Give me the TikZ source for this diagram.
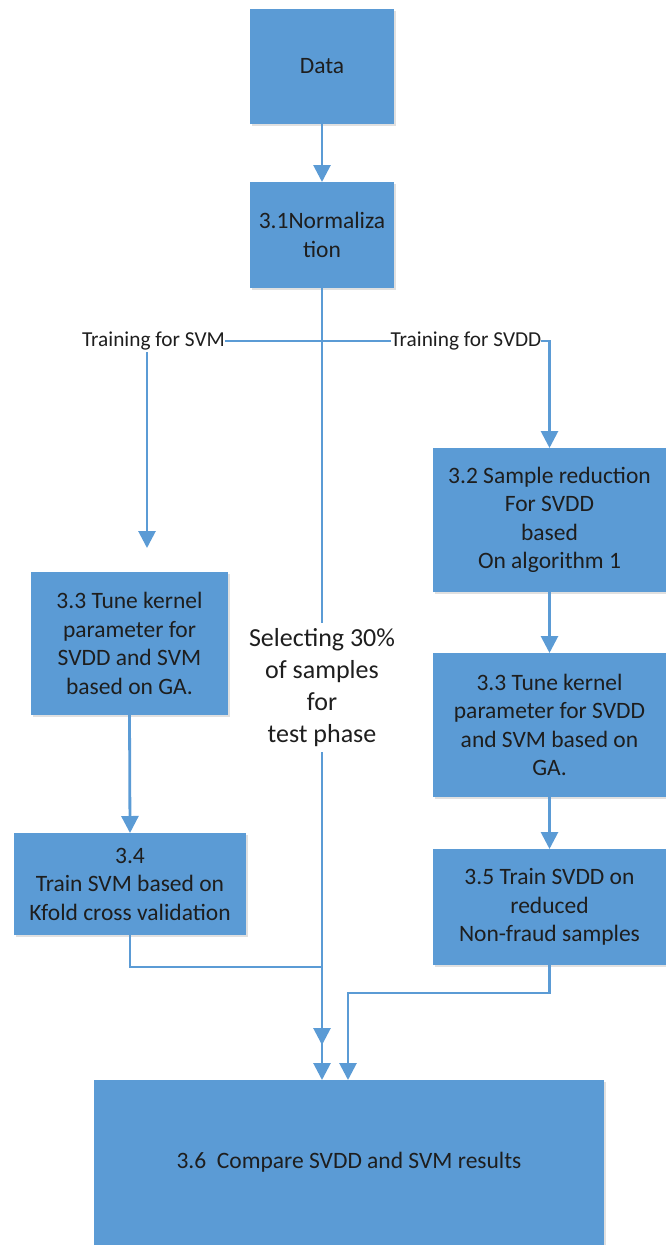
\documentclass[tikz,border=0pt]{standalone}
\usepackage{fontspec}
\setmainfont{Carlito}
\usetikzlibrary{arrows.meta,shadows}
\definecolor{boxblue}{HTML}{5B9BD5}
\definecolor{txt}{HTML}{1E1E1E}
\begin{document}
\begin{tikzpicture}[x=1pt,y=1pt,
  fbox/.style={draw=none, fill=boxblue, rectangle, inner sep=2pt, outer sep=0pt, align=center, text=txt,
     font=\fontsize{23.5}{28.5}\selectfont,
     drop shadow={shadow xshift=1.5pt, shadow yshift=-2pt, fill=black, opacity=0.12}},
  lbl/.style={inner sep=0pt, outer sep=0pt, text=txt, font=\fontsize{21.3}{24}\selectfont},
  conn/.style={draw=boxblue, line width=2.8pt},
  arr/.style={conn, -{Triangle[width=17pt,length=17pt]}}
]
\useasboundingbox (0,0) rectangle (666,-1245);
% boxes
\node[fbox, minimum width=144pt, minimum height=115pt] (data) at (322,-66.5) {Data};
\node[fbox, minimum width=144pt, minimum height=106pt] (norm) at (322,-235) {3.1Normaliza\\tion};
\node[fbox, minimum width=233pt, minimum height=144pt] (b32) at (549.5,-520) {3.2 Sample reduction\\For SVDD\\based\\On algorithm 1};
\node[fbox, minimum width=233pt, minimum height=144pt] (b33r) at (549.5,-725) {3.3 Tune kernel\\parameter for SVDD\\and SVM based on\\GA.};
\node[fbox, minimum width=233pt, minimum height=116pt] (b35) at (549.5,-907) {3.5 Train SVDD on\\reduced\\Non-fraud samples};
\node[fbox, minimum width=197pt, minimum height=143pt] (b33l) at (129.5,-643.5) {3.3 Tune kernel\\parameter for\\SVDD and SVM\\based on GA.};
\node[fbox, minimum width=232pt, minimum height=102pt] (b34) at (130,-884) {3.4\\Train SVM based on\\Kfold cross validation};
\node[fbox, minimum width=510pt, minimum height=165pt] (b36) at (349,-1162.5) {3.6\ \ Compare SVDD and SVM results};
% labels
\node[lbl] (t1) at (153.5,-341) {Training for SVM};
\node[lbl] (t2) at (466,-341) {Training for SVDD};
\node[inner sep=0pt, outer sep=0pt, minimum height=129pt, align=center, text=txt,
      font=\fontsize{26}{32}\selectfont] (sel) at (322,-687.5) {Selecting 30\%\\of samples\\for\\test phase};
% coordinates
\coordinate (l1) at (147,-352);
\coordinate (l2) at (147,-548);
\coordinate (j1) at (322,-967);
\coordinate (a1) at (322,-1045);
\coordinate (j2) at (348,-993);
% connectors
\draw[arr] (data.south) -- (norm.north);
\draw[conn] (norm.south) -- (sel.north);
\draw[conn] (t1.east) -- (t2.west);
\draw[arr] (t2.east) -| (b32.north);
\draw[arr] (l1) -- (l2);
\draw[arr] (b33l.south) -- (b34.north);
\draw[arr] (b32.south) -- (b33r.north);
\draw[arr] (b33r.south) -- (b35.north);
\draw[arr] (b34.south) |- (j1) -- (a1);
\draw[arr] (sel.south) -- (sel.south |- b36.north);
\draw[arr] (b35.south) |- (j2) -- (j2 |- b36.north);
\end{tikzpicture}
\end{document}
